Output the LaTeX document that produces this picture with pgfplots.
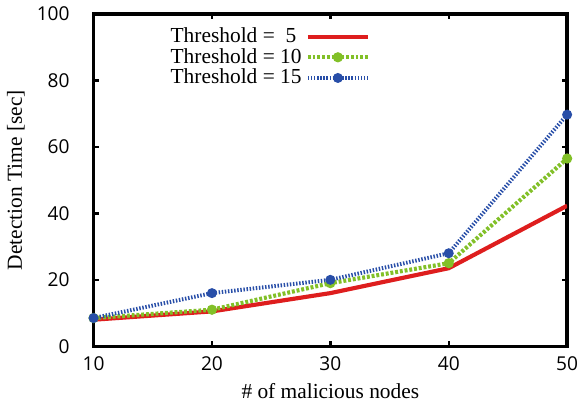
\documentclass[border=0pt]{standalone}
\usepackage{fontspec}
\setmainfont{Liberation Serif}
\newfontfamily\ticksans{Open Sans}
\usepackage{pgfplots}
\pgfplotsset{compat=1.18}

\definecolor{tred}{RGB}{222,30,30}
\definecolor{tgreen}{RGB}{130,192,40}
\definecolor{tblue}{RGB}{40,78,168}

\begin{document}
\begin{tikzpicture}
\begin{axis}[
    scale only axis,
    width=228pt, height=160pt,
    xmin=10, xmax=50, ymin=0, ymax=100,
    xtick={10,20,30,40,50},
    ytick={0,20,40,60,80,100},
    tick align=inside,
    major tick length=2.5pt,
    every tick/.style={black, line width=1.2pt},
    axis line style={line width=1.6pt},
    /pgf/number format/assume math mode=true,
    ticklabel style={font=\ticksans\fontsize{9.2}{11}\selectfont},
    xticklabel style={yshift=-1.5pt},
    yticklabel style={xshift=-8pt},
    xlabel={\# of malicious nodes},
    ylabel={Detection Time [sec]},
    xlabel style={font=\fontsize{10.3}{12}\selectfont, yshift=1pt},
    ylabel style={font=\fontsize{10.3}{12}\selectfont, yshift=-1pt},
    legend plot pos=right,
    legend cell align=left,
    legend style={draw=none, fill=none, at={(0.14,0.985)}, anchor=north west,
        row sep=-2.7pt, font=\fontsize{10.3}{12}\selectfont},
    legend image code/.code={
        \draw[mark repeat=2,mark phase=2] plot coordinates {(7pt,0pt) (21.5pt,0pt) (36pt,0pt)};
    },
  ]
  \addplot[tred, line width=2pt, mark=none] coordinates {
    (10,8) (20,10.5) (30,16) (40,23.5) (50,42.3)
  };
  \addlegendentry{Threshold =\ \ 5}
  \addplot[tgreen, line width=2pt, dash pattern=on 1.4pt off 0.9pt,
      mark=*, mark size=1.4pt, mark options={solid}] coordinates {
    (10,8.5) (20,11) (30,19) (40,25) (50,56.5)
  };
  \addlegendentry{Threshold = 10}
  \addplot[tblue, line width=1.9pt, dash pattern=on 0.7pt off 0.8pt,
      mark=*, mark size=1.4pt, mark options={solid}] coordinates {
    (10,8.5) (20,16) (30,20) (40,28) (50,69.7)
  };
  \addlegendentry{Threshold = 15}
\end{axis}
\end{tikzpicture}
\end{document}
